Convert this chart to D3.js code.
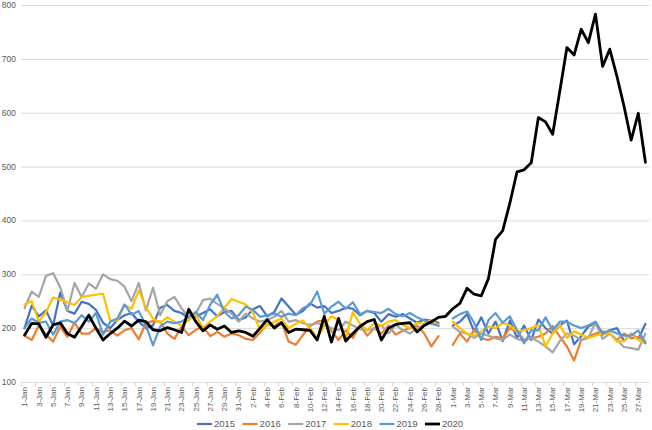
<!DOCTYPE html>
<html>
<head>
<meta charset="utf-8">
<script src="https://cdn.jsdelivr.net/npm/d3@7"></script>
<style>
  html, body { margin: 0; padding: 0; background: #fff; }
  svg { display: block; font-family: "Liberation Sans", Arial, sans-serif; }
</style>
</head>
<body>
<svg id="d3-svg" width="652" height="430"></svg>
<script>
// --- DATA ---
const days = [
  "1-Jan","2-Jan","3-Jan","4-Jan","5-Jan","6-Jan","7-Jan","8-Jan","9-Jan","10-Jan",
  "11-Jan","12-Jan","13-Jan","14-Jan","15-Jan","16-Jan","17-Jan","18-Jan","19-Jan","20-Jan",
  "21-Jan","22-Jan","23-Jan","24-Jan","25-Jan","26-Jan","27-Jan","28-Jan","29-Jan","30-Jan","31-Jan",
  "1-Feb","2-Feb","3-Feb","4-Feb","5-Feb","6-Feb","7-Feb","8-Feb","9-Feb","10-Feb",
  "11-Feb","12-Feb","13-Feb","14-Feb","15-Feb","16-Feb","17-Feb","18-Feb","19-Feb","20-Feb",
  "21-Feb","22-Feb","23-Feb","24-Feb","25-Feb","26-Feb","27-Feb","28-Feb","29-Feb",
  "1-Mar","2-Mar","3-Mar","4-Mar","5-Mar","6-Mar","7-Mar","8-Mar","9-Mar","10-Mar",
  "11-Mar","12-Mar","13-Mar","14-Mar","15-Mar","16-Mar","17-Mar","18-Mar","19-Mar","20-Mar",
  "21-Mar","22-Mar","23-Mar","24-Mar","25-Mar","26-Mar","27-Mar","28-Mar"
];

const years = ["2015", "2016", "2017", "2018", "2019", "2020"];

// 29-Feb is empty (null) in the non-leap years
const y2015 = [
  200,242,222,233,205,266,232,227,249,245,234,210,200,215,224,228,212,200,205,238,243,232,228,218,222,228,235,222,230,232,215,
  220,235,241,222,230,255,240,225,232,246,238,241,228,232,238,236,224,232,228,212,226,221,226,218,210,216,214,210,null,
  205,212,226,194,220,190,212,176,214,182,205,178,216,200,190,205,214,170,185,203,210,188,196,200,176,190,180,208
];
const y2016 = [
  186,178,205,188,175,203,184,210,190,190,200,193,196,186,196,200,179,210,213,212,190,180,203,187,197,203,185,193,184,190,187,
  180,178,192,207,204,212,175,169,187,204,212,215,195,178,196,182,205,186,200,190,205,188,195,200,205,190,166,185,null,
  169,190,175,197,181,178,184,181,200,194,178,181,184,190,204,184,166,140,178,184,190,194,190,178,190,181,184,175
];
const y2017 = [
  237,268,258,297,302,276,232,284,258,283,273,300,291,288,277,250,284,233,275,224,250,258,237,218,227,252,255,245,237,227,212,
  227,218,212,215,221,232,212,215,209,206,209,206,200,196,212,205,198,196,200,205,190,206,196,190,200,206,212,204,null,
  203,193,190,182,190,186,181,178,188,180,176,182,175,166,155,176,190,186,178,182,210,180,190,178,165,163,160,190
];
const y2018 = [
  244,250,212,230,257,253,248,243,258,260,262,264,214,214,243,236,270,238,218,210,220,212,205,215,225,200,212,222,238,254,249,
  244,229,197,205,212,218,200,208,214,200,181,205,222,215,181,230,208,196,210,204,212,215,206,200,210,208,215,205,null,
  212,200,190,186,194,203,200,210,205,194,196,200,206,166,190,206,182,194,188,182,186,190,190,175,176,190,178,172
];
const y2019 = [
  200,218,210,212,188,212,215,209,224,212,228,188,212,218,244,225,232,205,168,203,212,209,212,221,230,215,243,262,230,218,224,
  240,234,221,224,227,221,227,224,237,243,268,227,240,249,236,248,226,232,230,228,236,226,222,228,220,214,208,205,null,
  218,226,231,210,178,215,228,210,222,196,172,196,196,220,196,212,212,205,200,205,212,190,196,190,186,186,196,172
];
const y2020 = [
  187,209,208,183,206,210,190,183,203,224,200,178,190,200,213,204,215,212,197,195,201,197,192,235,212,195,206,198,204,192,195,
  192,185,200,216,200,210,192,198,197,196,178,222,174,218,176,190,203,212,216,178,200,207,209,210,193,205,212,220,222,
  236,246,274,263,260,292,365,381,432,490,494,507,591,583,560,640,721,707,755,730,783,686,718,668,612,549,599,508
];

const yTicks = [100, 200, 300, 400, 500, 600, 700, 800];

// --- RENDER ---
function renderChart() {
    const seriesValues = [y2015, y2016, y2017, y2018, y2019, y2020];
    const series = years.map((name, k) => ({ name, values: seriesValues[k] }));

    const COLORS = {
        "2015": "#4472C4",
        "2016": "#ED7D31",
        "2017": "#A5A5A5",
        "2018": "#FFC000",
        "2019": "#5B9BD5",
        "2020": "#000000",
    };

    const plotLeft = 21, plotRight = 649, plotTop = 5, plotBottom = 382;

    const x = d3.scalePoint()
        .domain(d3.range(days.length))
        .range([plotLeft, plotRight])
        .padding(0.5);
    const step = x.step();

    const y = d3.scaleLinear()
        .domain([100, 800])
        .range([plotBottom, plotTop]);

    const svg = d3.select("#d3-svg");
    svg.selectAll("*").remove();

    // gridlines + y labels
    const yAxis = svg.append("g");
    yAxis.selectAll("line")
        .data(yTicks)
        .join("line")
            .attr("x1", plotLeft)
            .attr("x2", plotRight)
            .attr("y1", d => y(d) + 0.5)
            .attr("y2", d => y(d) + 0.5)
            .attr("stroke", "#d9d9d9")
            .attr("stroke-width", 1);
    yAxis.selectAll("text")
        .data(yTicks)
        .join("text")
            .attr("x", 16)
            .attr("y", d => y(d))
            .attr("dy", "0.35em")
            .attr("text-anchor", "end")
            .attr("fill", "#595959")
            .attr("font-size", 8.5)
            .text(d => d);

    // x tick marks (every other category boundary) and rotated labels
    const xAxis = svg.append("g");
    const labelIdx = d3.range(0, days.length, 2);
    xAxis.selectAll("line")
        .data(labelIdx)
        .join("line")
            .attr("x1", i => Math.round(x(i) - step / 2) + 0.5)
            .attr("x2", i => Math.round(x(i) - step / 2) + 0.5)
            .attr("y1", plotBottom)
            .attr("y2", plotBottom + 4)
            .attr("stroke", "#d9d9d9");
    xAxis.selectAll("text")
        .data(labelIdx)
        .join("text")
            .attr("transform", i => `translate(${x(i)},${plotBottom + 5}) rotate(-90)`)
            .attr("dy", "0.35em")
            .attr("text-anchor", "end")
            .attr("fill", "#595959")
            .attr("font-size", 8)
            .text(i => days[i]);

    // lines
    const line = d3.line()
        .defined(d => d != null)
        .x((d, i) => x(i))
        .y(d => y(d));

    svg.append("g")
            .attr("fill", "none")
            .attr("stroke-linejoin", "round")
            .attr("stroke-linecap", "round")
        .selectAll("path")
        .data(series)
        .join("path")
            .attr("stroke", s => COLORS[s.name])
            .attr("stroke-width", s => s.name === "2020" ? 2.8 : 2.2)
            .attr("d", s => line(s.values));

    // legend
    const legendStart = 197, legendStep = 45.6, legendY = 424;
    const legend = svg.append("g")
        .selectAll("g")
        .data(series)
        .join("g")
            .attr("transform", (s, k) => `translate(${legendStart + k * legendStep},${legendY})`);
    legend.append("line")
        .attr("x1", 0).attr("x2", 15)
        .attr("stroke", s => COLORS[s.name])
        .attr("stroke-width", s => s.name === "2020" ? 2.8 : 2.2);
    legend.append("text")
        .attr("x", 17)
        .attr("dy", "0.35em")
        .attr("fill", "#595959")
        .attr("font-size", 9.5)
        .text(s => s.name);

    return svg.node();
}

renderChart();
</script>
</body>
</html>
